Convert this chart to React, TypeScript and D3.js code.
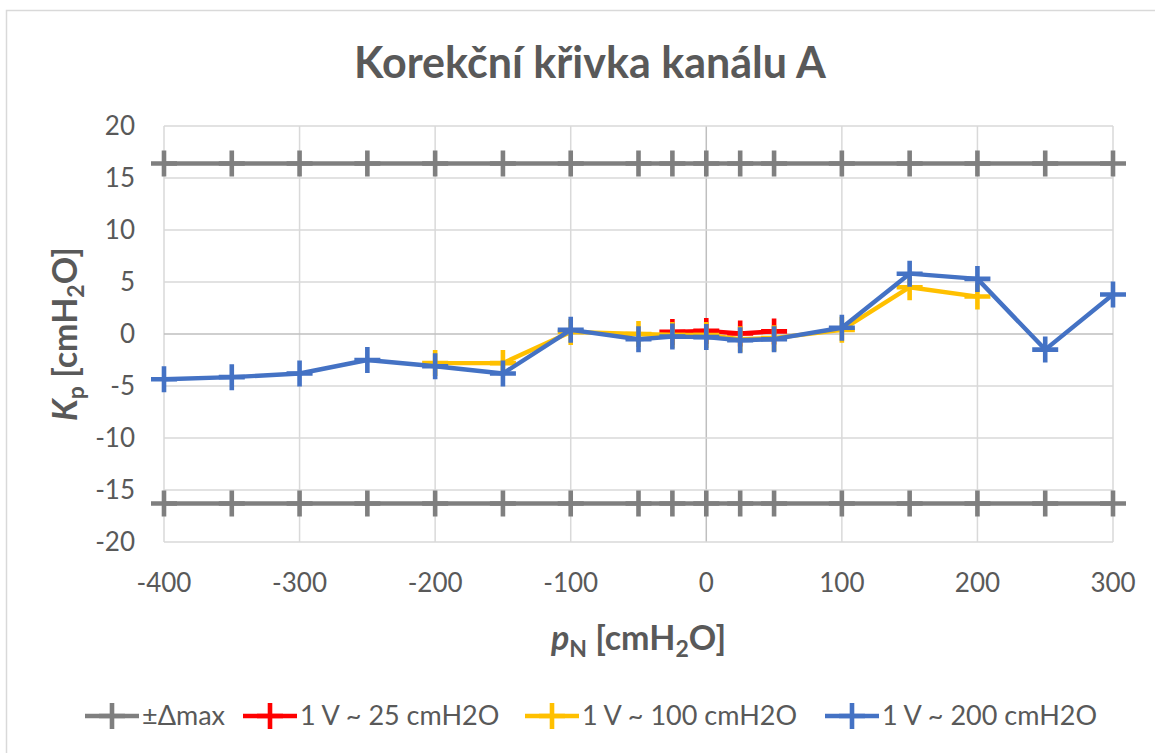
import * as d3 from "d3";

const xTicks = [-400, -300, -200, -100, 0, 100, 200, 300];
const yTicks = [-20, -15, -10, -5, 0, 5, 10, 15, 20];

const deltaX = [-400, -350, -300, -250, -200, -150, -100, -50, -25, 0, 25, 50, 100, 150, 200, 250, 300];
const deltaUpper = [16.4, 16.4, 16.4, 16.4, 16.4, 16.4, 16.4, 16.4, 16.4, 16.4, 16.4, 16.4, 16.4, 16.4, 16.4, 16.4, 16.4];
const deltaLower = [-16.3, -16.3, -16.3, -16.3, -16.3, -16.3, -16.3, -16.3, -16.3, -16.3, -16.3, -16.3, -16.3, -16.3, -16.3, -16.3, -16.3];

const redX = [-25, 0, 25, 50];
const redY = [0.2, 0.3, 0.05, 0.25];

const yellowX = [-200, -150, -100, -50, -25, 0, 25, 50, 100, 150, 200];
const yellowY = [-2.8, -2.8, 0.2, 0.0, -0.1, -0.1, -0.5, -0.4, 0.4, 4.5, 3.6];

const blueX = [-400, -350, -300, -250, -200, -150, -100, -50, -25, 0, 25, 50, 100, 150, 200, 250, 300];
const blueY = [-4.35, -4.15, -3.8, -2.5, -3.1, -3.8, 0.4, -0.5, -0.25, -0.3, -0.6, -0.5, 0.6, 5.8, 5.3, -1.5, 3.8];

const legendLabels = ["±Δmax", "1 V ~ 25 cmH2O", "1 V ~ 100 cmH2O", "1 V ~ 200 cmH2O"];

const GRAY = "#7f7f7f";
const RED = "#ff0000";
const YELLOW = "#ffc000";
const BLUE = "#4472c4";
const TEXT = "#595959";
const FONT = "Lato, 'Open Sans', sans-serif";

const W = 1155;
const H = 753;
const PLOT = { left: 164, right: 1113, top: 126, bottom: 542 };

const zip = (xs: number[], ys: number[]) => xs.map((x, i) => ({ x, y: ys[i] }));

const series = [
  { name: legendLabels[0], color: GRAY, parts: [zip(deltaX, deltaUpper), zip(deltaX, deltaLower)] },
  { name: legendLabels[1], color: RED, parts: [zip(redX, redY)] },
  { name: legendLabels[2], color: YELLOW, parts: [zip(yellowX, yellowY)] },
  { name: legendLabels[3], color: BLUE, parts: [zip(blueX, blueY)] },
];

const PLUS = "M-13,0H13M0,-13V13";

export default function App() {
  const x = d3.scaleLinear().domain([-400, 300]).range([PLOT.left, PLOT.right]);
  const y = d3.scaleLinear().domain([-20, 20]).range([PLOT.bottom, PLOT.top]);
  const line = d3
    .line<{ x: number; y: number }>()
    .x((d) => x(d.x))
    .y((d) => y(d.y));

  // legend item start positions (marker line)
  const legendX = [85, 243, 525, 825];
  const legendY = 716;

  return (
    <svg
      width={W}
      height={H}
      style={{ position: "absolute", left: 0, top: 0, background: "#fff" }}
      fontFamily={FONT}
    >
      <rect x={6.5} y={10.5} width={W + 20} height={H + 20} fill="#fff" stroke="#d9d9d9" strokeWidth={1.5} />

      <text x={590} y={78} textAnchor="middle" fontSize={43} fontWeight="bold" fill={TEXT}>
        Korekční křivka kanálu A
      </text>

      {/* grid */}
      <g>
        {xTicks.map((t) => (
          <line key={"gx" + t} x1={x(t)} x2={x(t)} y1={PLOT.top} y2={PLOT.bottom}
            stroke={t === 0 ? "#bfbfbf" : "#d9d9d9"} strokeWidth={1.5} />
        ))}
        {yTicks.map((t) => (
          <line key={"gy" + t} x1={PLOT.left} x2={PLOT.right} y1={y(t)} y2={y(t)}
            stroke={t === 0 ? "#bfbfbf" : "#d9d9d9"} strokeWidth={1.5} />
        ))}
      </g>

      {/* tick labels */}
      <g fontSize={26} fill={TEXT}>
        {yTicks.map((t) => (
          <text key={"ty" + t} x={135} y={y(t)} dy="0.35em" textAnchor="end">
            {t}
          </text>
        ))}
        {xTicks.map((t) => (
          <text key={"tx" + t} x={x(t)} y={592} textAnchor="middle">
            {t}
          </text>
        ))}
      </g>

      {/* series */}
      {series.map((s) => (
        <g key={s.name}>
          {s.parts.map((p, i) => (
            <g key={i}>
              <path d={line(p) || ""} fill="none" stroke={s.color} strokeWidth={4.4} strokeLinejoin="round" />
              {p.map((d, j) => (
                <path key={j} d={PLUS} transform={`translate(${x(d.x)},${y(d.y)})`} stroke={s.color} strokeWidth={4.6} />
              ))}
            </g>
          ))}
        </g>
      ))}

      {/* axis titles */}
      <text x={(PLOT.left + PLOT.right) / 2} y={650} textAnchor="middle" fontSize={34} fontWeight="bold" fill={TEXT}>
        <tspan fontStyle="italic">p</tspan>
        <tspan fontSize={23} dy={7}>N</tspan>
        <tspan dy={-7}> [cmH</tspan>
        <tspan fontSize={23} dy={7}>2</tspan>
        <tspan dy={-7}>O]</tspan>
      </text>
      <text transform={`translate(77,${(PLOT.top + PLOT.bottom) / 2}) rotate(-90)`} textAnchor="middle"
        fontSize={34} fontWeight="bold" fill={TEXT}>
        <tspan fontStyle="italic">K</tspan>
        <tspan fontSize={23} dy={7}>p</tspan>
        <tspan dy={-7}> [cmH</tspan>
        <tspan fontSize={23} dy={7}>2</tspan>
        <tspan dy={-7}>O]</tspan>
      </text>

      {/* legend */}
      <g fontSize={27} fill={TEXT}>
        {series.map((s, i) => (
          <g key={"lg" + i} transform={`translate(${legendX[i]},${legendY})`}>
            <line x1={0} x2={54} y1={0} y2={0} stroke={s.color} strokeWidth={4.4} />
            <path d={PLUS} transform="translate(27,0)" stroke={s.color} strokeWidth={4.6} />
            <text x={57} y={0} dy="0.35em">{s.name}</text>
          </g>
        ))}
      </g>
    </svg>
  );
}
